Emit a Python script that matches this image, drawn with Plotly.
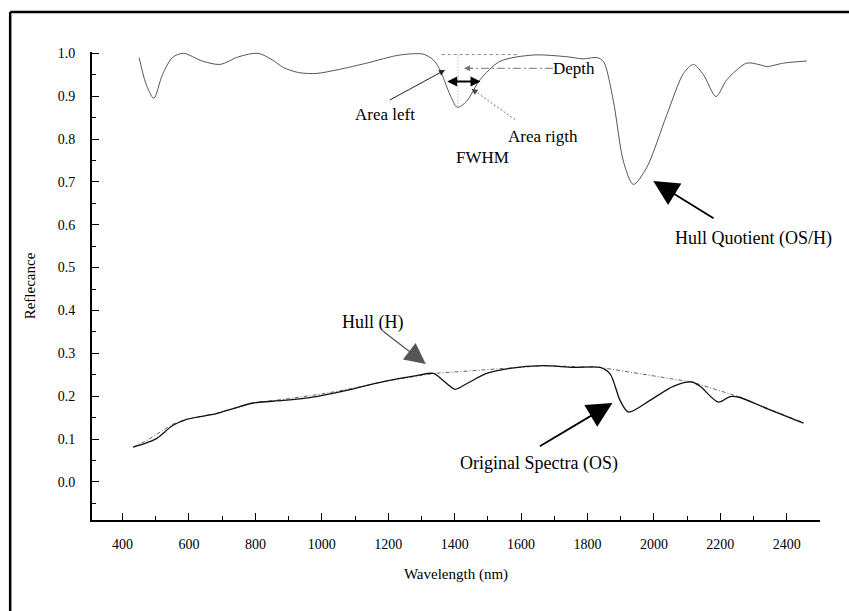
import plotly.graph_objects as go

# Hull quotient (OS/H)
hq_x = [450, 470, 494, 520, 550, 583, 640, 693, 750, 808, 850, 884, 930, 984, 1050,
        1135, 1235, 1305, 1335, 1356, 1386, 1408, 1436, 1476, 1536, 1637, 1737, 1787,
        1828, 1848, 1878, 1908, 1938, 1978, 2039, 2089, 2119, 2149, 2187, 2219, 2279,
        2320, 2340, 2390, 2460]
hq_y = [0.99, 0.93, 0.895, 0.95, 0.99, 1.0, 0.982, 0.974, 0.992, 1.0, 0.985, 0.967,
        0.955, 0.953, 0.962, 0.977, 0.996, 0.998, 0.985, 0.961, 0.903, 0.874, 0.888,
        0.938, 0.981, 0.996, 0.992, 0.987, 0.990, 0.981, 0.888, 0.748, 0.694, 0.733,
        0.857, 0.953, 0.974, 0.950, 0.899, 0.938, 0.977, 0.973, 0.969, 0.977, 0.982]

# Original spectra (OS)
os_x = [432, 472, 502, 552, 593, 683, 733, 793, 884, 984, 1085, 1185, 1285, 1336, 1366,
        1401, 1436, 1496, 1566, 1667, 1757, 1838, 1868, 1898, 1923, 1988, 2058, 2114,
        2139, 2194, 2229, 2254, 2340, 2450]
os_y = [0.081, 0.091, 0.101, 0.132, 0.146, 0.159, 0.171, 0.184, 0.190, 0.199, 0.215,
        0.234, 0.248, 0.253, 0.236, 0.216, 0.229, 0.253, 0.265, 0.271, 0.267, 0.267,
        0.252, 0.190, 0.163, 0.190, 0.223, 0.233, 0.223, 0.186, 0.199, 0.198, 0.171, 0.137]

# Hull (H)
hull_x = [432, 472, 552, 593, 683, 793, 900, 1000, 1100, 1200, 1336, 1667, 1838, 2114,
          2254, 2340, 2450]
hull_y = [0.081, 0.096, 0.135, 0.146, 0.160, 0.184, 0.194, 0.205, 0.219, 0.236, 0.253,
          0.271, 0.267, 0.233, 0.199, 0.172, 0.138]

x_ticks = [400, 600, 800, 1000, 1200, 1400, 1600, 1800, 2000, 2200, 2400]
y_ticks = [0.0, 0.1, 0.2, 0.3, 0.4, 0.5, 0.6, 0.7, 0.8, 0.9, 1.0]

FONT = "Liberation Serif"

fig = go.Figure()
fig.add_trace(go.Scatter(x=hull_x, y=hull_y, mode="lines",
                         line=dict(color="#666666", width=1, dash="4px,2px,1px,2px")))
fig.add_trace(go.Scatter(x=os_x, y=os_y, mode="lines", line_shape="spline",
                         line=dict(color="#111111", width=1.3, smoothing=0.8)))
fig.add_trace(go.Scatter(x=hq_x, y=hq_y, mode="lines", line_shape="spline",
                         line=dict(color="#555555", width=1, smoothing=0.8)))

shapes = [
    # frame (top and left edges)
    dict(type="line", xref="paper", yref="paper", x0=-0.1124, x1=1.06, y0=1.0854, y1=1.0854,
         line=dict(color="black", width=2.5)),
    dict(type="line", xref="paper", yref="paper", x0=-0.1124, x1=-0.1124, y0=-0.25, y1=1.0854,
         line=dict(color="black", width=2.5)),
    # hull level (dotted) and depth vertical
    dict(type="line", x0=1361, x1=1590, y0=0.997, y1=0.997,
         line=dict(color="#888888", width=1, dash="3px,3px")),
    dict(type="line", x0=1410, x1=1410, y0=0.997, y1=0.874,
         line=dict(color="#999999", width=1, dash="1px,2px")),
    # depth dash-dot leader
    dict(type="line", x0=1696, x1=1430, y0=0.965, y1=0.965,
         line=dict(color="#777777", width=1, dash="8px,3px,2px,3px")),
    # area right dotted leader
    dict(type="line", x0=1582, x1=1455, y0=0.845, y1=0.915,
         line=dict(color="#777777", width=1, dash="2px,2px")),
]

annots = [
    dict(text="Depth", x=1760, y=0.965, font_size=17),
    dict(text="Area left", x=1190, y=0.857, font_size=17),
    dict(text="Area rigth", x=1667, y=0.806, font_size=17),
    dict(text="FWHM", x=1484, y=0.757, font_size=17),
    dict(text="Hull Quotient (OS/H)", x=2299, y=0.568, font_size=18),
    dict(text="Original Spectra (OS)", x=1655, y=0.043, font_size=18),
    dict(text="Hull (H)", x=1153, y=0.372, font_size=18),
]
annotations = []
for a in annots:
    annotations.append(dict(text=a["text"], x=a["x"], y=a["y"], xref="x", yref="y",
                            showarrow=False, font=dict(family=FONT, size=a["font_size"], color="black")))

arrows = [
    # x, y (head), ax, ay (tail), color, width, size, head
    (1428, 0.965, 1460, 0.965, "#777777", 1, 1.2, 2),      # depth head
    (1371, 0.961, 1200, 0.889, "#222222", 1, 1.2, 2),      # area left
    (1451, 0.917, 1470, 0.906, "#444444", 1, 1.2, 2),      # area right head
    (1998, 0.702, 2184, 0.613, "black", 1.8, 2.8, 2),      # hull quotient
    (1875, 0.184, 1652, 0.081, "black", 1.8, 2.8, 2),      # original spectra
    (1313, 0.275, 1180, 0.354, "#555555", 1.3, 3.2, 2),    # hull
]
for (x, y, ax, ay, c, w, s, h) in arrows:
    annotations.append(dict(text="", x=x, y=y, ax=ax, ay=ay, xref="x", yref="y",
                            axref="x", ayref="y", showarrow=True, arrowcolor=c,
                            arrowwidth=w, arrowsize=s, arrowhead=h, standoff=0, startstandoff=0))
# FWHM double arrow
annotations.append(dict(text="", x=1478, y=0.934, ax=1373, ay=0.934, xref="x", yref="y",
                        axref="x", ayref="y", showarrow=True, arrowcolor="black",
                        arrowwidth=2, arrowsize=1, arrowhead=2, startarrowhead=2,
                        startarrowsize=1, arrowside="end+start", standoff=0, startstandoff=0))

fig.update_layout(
    width=849, height=611,
    margin=dict(l=92, r=29, t=51.5, b=91),
    paper_bgcolor="white", plot_bgcolor="white",
    showlegend=False,
    font=dict(family=FONT, color="black", size=14),
    shapes=shapes,
    annotations=annotations,
    xaxis=dict(range=[308, 2500], tickvals=x_ticks, ticktext=[str(v) for v in x_ticks],
               ticks="inside", ticklen=7, tickwidth=1.2, tickcolor="black",
               showline=True, linecolor="black", linewidth=2, showgrid=False, zeroline=False,
               minor=dict(dtick=100, tick0=0, ticks="inside", ticklen=4, tickcolor="black", showgrid=False),
               tickfont=dict(family=FONT, size=14), ticklabelstandoff=10,
               title=dict(text="Wavelength (nm)", font=dict(family=FONT, size=15), standoff=18)),
    yaxis=dict(range=[-0.089, 1.003], tickvals=y_ticks, ticktext=[f"{v:.1f}" for v in y_ticks],
               ticks="inside", ticklen=7, tickwidth=1.2, tickcolor="black",
               showline=True, linecolor="black", linewidth=2, showgrid=False, zeroline=False,
               minor=dict(dtick=0.05, tick0=0, ticks="inside", ticklen=4, tickcolor="black", showgrid=False),
               tickfont=dict(family=FONT, size=14), ticklabelstandoff=12,
               title=dict(text="Reflecance", font=dict(family=FONT, size=15), standoff=18)),
)

fig.write_html("out.html")
